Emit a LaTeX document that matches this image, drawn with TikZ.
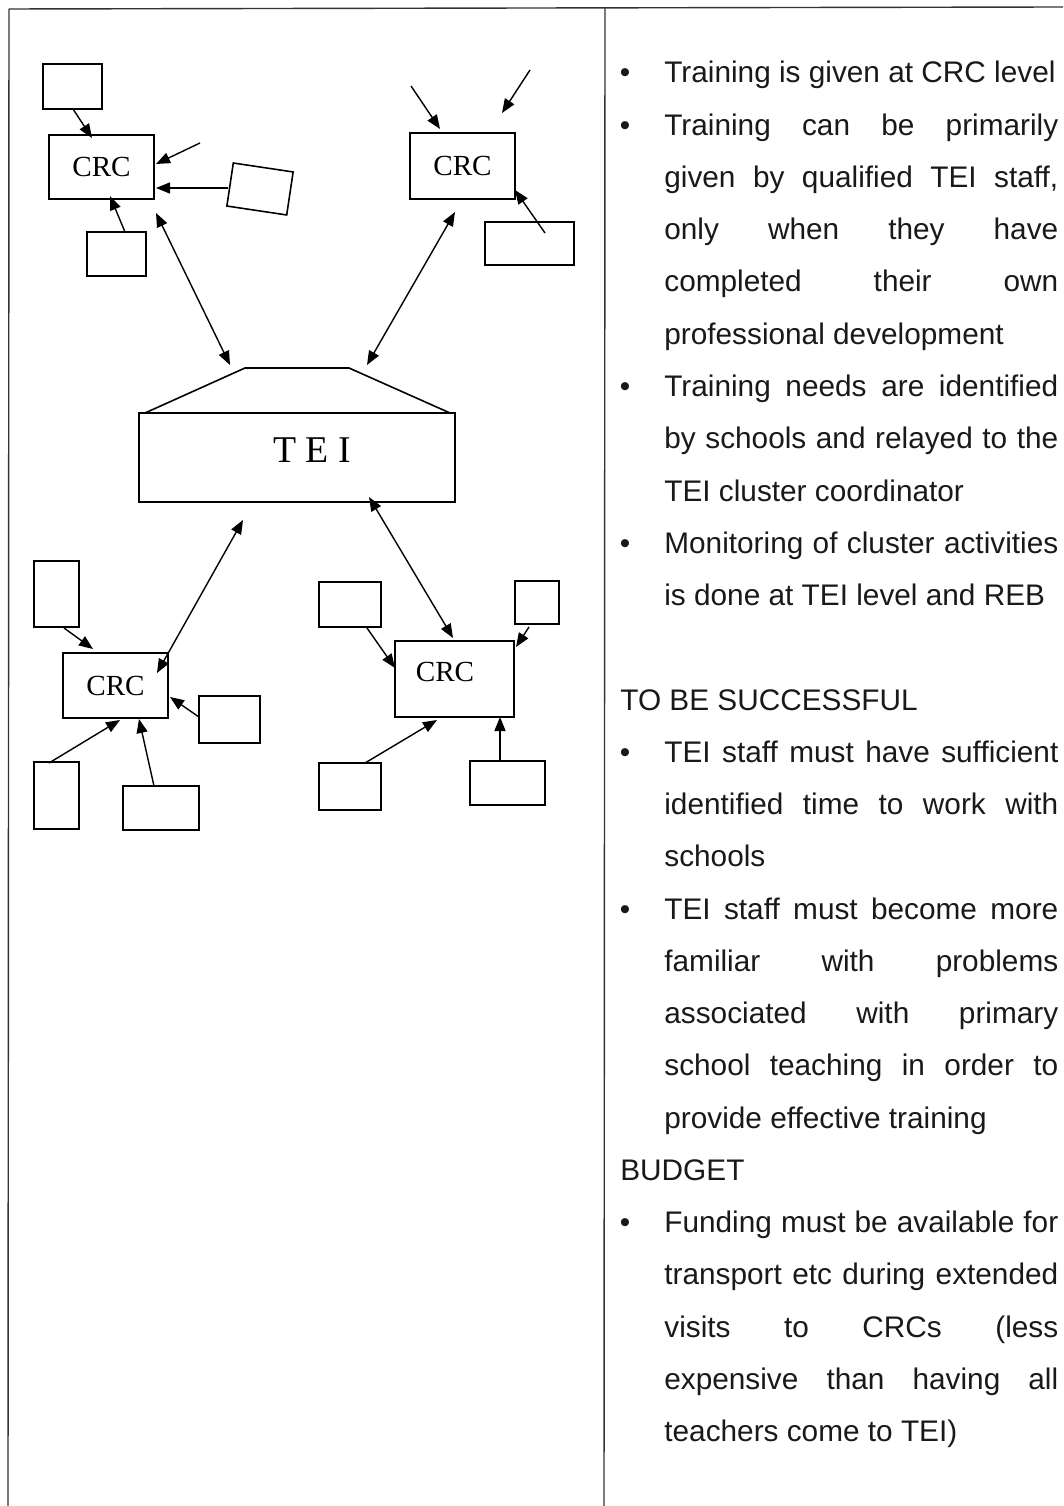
\documentclass[tikz,border=0pt]{standalone}
\usepackage{fontspec}
\setmainfont{Liberation Sans}
\newfontfamily\crcfont{Liberation Serif}
\usetikzlibrary{arrows.meta}
\newcommand{\jline}[1]{\makebox[7.88cm][s]{#1}}
\begin{document}
\begin{tikzpicture}[x=0.02cm, y=-0.02cm,
  sbox/.style={draw, line width=0.9pt, inner sep=0pt},
  crctxt/.style={font=\crcfont\fontsize{16.6pt}{18pt}\selectfont, inner sep=0pt},
  arr/.style={line width=0.8pt, -{Triangle[length=0.28cm, width=0.22cm]}},
  darr/.style={line width=0.8pt, {Triangle[length=0.28cm, width=0.22cm]}-{Triangle[length=0.28cm, width=0.22cm]}},
  txt/.style={anchor=base west, inner sep=0pt, text=black!90, font=\fontsize{16.95pt}{20pt}\selectfont},
  bul/.style={anchor=base, inner sep=0pt, text=black!90, font=\fontsize{16.9pt}{20pt}\selectfont},
  rule/.style={line width=0.8pt, black!80}]
\useasboundingbox (0,0) rectangle (1063,1506);
% table frame
\coordinate (tl) at (9,9);
\coordinate (tr) at (1063,7);
\coordinate (bl) at (8,1506);
\coordinate (mt) at (605,8);
\coordinate (mb) at (604,1506);
\draw[rule] (tl) -- (tr);
\draw[rule] (tl) -- (bl);
\draw[rule] (mt) -- (mb);

% ---- upper left cluster
\node[sbox, minimum width=1.18cm, minimum height=0.90cm] (b1) at (72.5,86.5) {};
\node[sbox, minimum width=2.10cm, minimum height=1.28cm, crctxt] (crc1) at (101.5,167) {CRC};
\node[sbox, minimum width=1.21cm, minimum height=0.87cm, rotate=-8.5] (b2) at (260,189) {};
\node[sbox, minimum width=1.18cm, minimum height=0.88cm] (b3) at (116.5,254) {};
% ---- upper right cluster
\node[sbox, minimum width=2.10cm, minimum height=1.32cm, crctxt] (crc2) at (462.5,166) {CRC};
\node[sbox, minimum width=1.78cm, minimum height=0.86cm] (b4) at (529.5,243.5) {};
% ---- TEI
\node[sbox, minimum width=6.32cm, minimum height=1.78cm] (tei) at (297,457.5) {};
\node[font=\crcfont\fontsize{21.5pt}{24pt}\selectfont, inner sep=0pt] (teitxt) at (312,450) {T E I};
\coordinate (tz1) at (145,413);
\coordinate (tz2) at (245,368);
\coordinate (tz3) at (349,368);
\coordinate (tz4) at (450,413);
\draw[line width=0.9pt] (tz1) -- (tz2) -- (tz3) -- (tz4);
% ---- lower left cluster
\node[sbox, minimum width=0.90cm, minimum height=1.32cm] (bA) at (56.5,594) {};
\node[sbox, minimum width=2.10cm, minimum height=1.30cm, crctxt] (crc3) at (115.5,685.5) {CRC};
\node[sbox, minimum width=1.22cm, minimum height=0.94cm] (bB) at (229.5,719.5) {};
\node[sbox, minimum width=0.90cm, minimum height=1.34cm] (bC) at (56.5,795.5) {};
\node[sbox, minimum width=1.52cm, minimum height=0.88cm] (bD) at (161,808) {};
% ---- lower right cluster
\node[sbox, minimum width=2.38cm, minimum height=1.52cm] (crc4) at (454.5,679) {};
\node[crctxt] (crc4txt) at (445,672) {CRC};
\node[sbox, minimum width=1.24cm, minimum height=0.90cm] (bE) at (350,604.5) {};
\node[sbox, minimum width=0.88cm, minimum height=0.86cm] (bF) at (537,602.5) {};
\node[sbox, minimum width=1.24cm, minimum height=0.94cm] (bG) at (350,786.5) {};
\node[sbox, minimum width=1.50cm, minimum height=0.88cm] (bH) at (507.5,783) {};

% ---- arrow end points
\coordinate (a1s) at (73,109);  \coordinate (a1e) at (92,138);
\coordinate (a2s) at (200,143); \coordinate (a2e) at (156,164);
\coordinate (a3s) at (228,188); \coordinate (a3e) at (156,188);
\coordinate (a4s) at (125,232); \coordinate (a4e) at (110,196);
\coordinate (a5s) at (156,213); \coordinate (a5e) at (230,365);
\coordinate (a6s) at (411,86);  \coordinate (a6e) at (440,129);
\coordinate (a7s) at (530,70);  \coordinate (a7e) at (502,113);
\coordinate (a8s) at (545,233); \coordinate (a8e) at (515,190);
\coordinate (a9s) at (455,212); \coordinate (a9e) at (367,365);
\coordinate (a10s) at (243,520); \coordinate (a10e) at (157,673);
\coordinate (a11s) at (369,497); \coordinate (a11e) at (453,638);
\coordinate (a12s) at (64,628);  \coordinate (a12e) at (93,649);
\coordinate (a13s) at (199,717); \coordinate (a13e) at (170,697);
\coordinate (a14s) at (49,763);  \coordinate (a14e) at (120,720);
\coordinate (a15s) at (154,786); \coordinate (a15e) at (139,719);
\coordinate (a16s) at (367,628); \coordinate (a16e) at (395,668);
\coordinate (a17s) at (529,627); \coordinate (a17e) at (516,647);
\coordinate (a18s) at (365,763); \coordinate (a18e) at (437,720);
\coordinate (a19s) at (500,761); \coordinate (a19e) at (500,717);

\draw[arr] (a1s) -- (a1e);
\draw[arr] (a2s) -- (a2e);
\draw[arr] (a3s) -- (a3e);
\draw[arr] (a4s) -- (a4e);
\draw[darr] (a5s) -- (a5e);
\draw[arr] (a6s) -- (a6e);
\draw[arr] (a7s) -- (a7e);
\draw[arr] (a8s) -- (a8e);
\draw[darr] (a9s) -- (a9e);
\draw[darr] (a10s) -- (a10e);
\draw[darr] (a11s) -- (a11e);
\draw[arr] (a12s) -- (a12e);
\draw[arr] (a13s) -- (a13e);
\draw[arr] (a14s) -- (a14e);
\draw[arr] (a15s) -- (a15e);
\draw[arr] (a16s) -- (a16e);
\draw[arr] (a17s) -- (a17e);
\draw[arr] (a18s) -- (a18e);
\draw[arr] (a19s) -- (a19e);

% ---- right column text
\node[bul] (u1) at (625,83) {•};
\node[txt] (l1) at (664,83) {Training is given at CRC level};
\node[bul] (u2) at (625,135.25) {•};
\node[txt] (l2) at (664,135.25) {\jline{Training can be primarily}};
\node[txt] (l3) at (664,187.5) {\jline{given by qualified TEI staff,}};
\node[txt] (l4) at (664,239.75) {\jline{only when they have}};
\node[txt] (l5) at (664,292) {\jline{completed their own}};
\node[txt] (l6) at (664,344.25) {professional development};
\node[bul] (u3) at (625,396.5) {•};
\node[txt] (l7) at (664,396.5) {\jline{Training needs are identified}};
\node[txt] (l8) at (664,448.75) {\jline{by schools and relayed to the}};
\node[txt] (l9) at (664,501) {TEI cluster coordinator};
\node[bul] (u4) at (625,553.25) {•};
\node[txt] (l10) at (664,553.25) {\jline{Monitoring of cluster activities}};
\node[txt] (l11) at (664,605.5) {is done at TEI level and REB};
\node[txt] (h1) at (620,710) {TO BE SUCCESSFUL};
\node[bul] (u5) at (625,762.25) {•};
\node[txt] (l14) at (664,762.25) {\jline{TEI staff must have sufficient}};
\node[txt] (l15) at (664,814.5) {\jline{identified time to work with}};
\node[txt] (l16) at (664,866.75) {schools};
\node[bul] (u6) at (625,919) {•};
\node[txt] (l17) at (664,919) {\jline{TEI staff must become more}};
\node[txt] (l18) at (664,971.25) {\jline{familiar with problems}};
\node[txt] (l19) at (664,1023.5) {\jline{associated with primary}};
\node[txt] (l20) at (664,1075.75) {\jline{school teaching in order to}};
\node[txt] (l21) at (664,1128) {provide effective training};
\node[txt] (h2) at (620,1180.25) {BUDGET};
\node[bul] (u7) at (625,1232.5) {•};
\node[txt] (l23) at (664,1232.5) {\jline{Funding must be available for}};
\node[txt] (l24) at (664,1284.75) {\jline{transport etc during extended}};
\node[txt] (l25) at (664,1337) {\jline{visits to CRCs (less}};
\node[txt] (l26) at (664,1389.25) {\jline{expensive than having all}};
\node[txt] (l27) at (664,1441.5) {teachers come to TEI)};
\end{tikzpicture}
\end{document}
